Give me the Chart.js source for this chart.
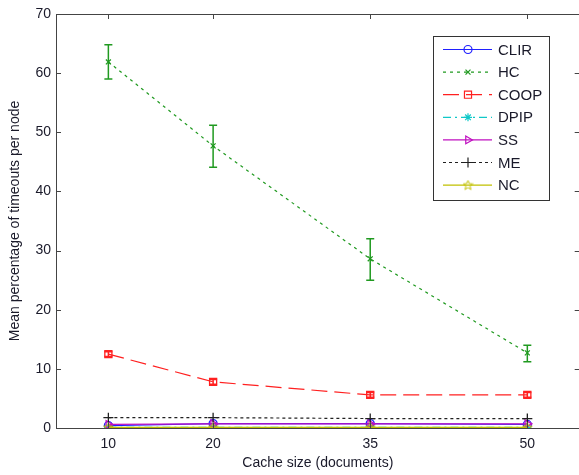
<!DOCTYPE html>
<html>
<head>
<meta charset="utf-8">
<script src="https://cdn.jsdelivr.net/npm/chart.js@4.4.0/dist/chart.umd.min.js"></script>
<style>
  body { margin: 0; overflow: hidden; background: #fff; }
  #wrap { width: 586px; height: 475px; }
</style>
</head>
<body>
<div id="wrap"><canvas id="chart" width="586" height="475"></canvas></div>
<script>
// cache sizes on the x axis
const cacheSizes = [10, 20, 35, 50];
const yTicks = [0, 10, 20, 30, 40, 50, 60, 70];

// mean % of timeouts per node
const clir = [0.4, 0.75, 0.75, 0.6];
const hc = [61.9, 47.7, 28.6, 12.7];
const hcLow = [59.0, 44.1, 25.0, 11.2];
const hcHigh = [64.8, 51.2, 32.0, 14.0];
const coop = [12.5, 7.8, 5.6, 5.6];
const coopLow = [12.1, 7.4, 5.2, 5.2];
const coopHigh = [12.9, 8.2, 6.0, 6.0];
const dpip = [0.1, 0.1, 0.1, 0.1];
const ss = [0.6, 0.7, 0.7, 0.7];
const me = [1.75, 1.75, 1.6, 1.6];
const nc = [0.1, 0.1, 0.1, 0.1];

const FONT = "'Liberation Sans', Arial, sans-serif";

// pentagram marker for NC (no built-in style for it)
function makeStar(color) {
  const c = document.createElement('canvas');
  c.width = 11; c.height = 11;
  const g = c.getContext('2d');
  g.strokeStyle = color;
  g.lineWidth = 1;
  g.beginPath();
  for (let i = 0; i < 10; i++) {
    const r = i % 2 === 0 ? 5 : 2.2;
    const a = -Math.PI / 2 + i * Math.PI / 5;
    const px = 5.5 + r * Math.cos(a), py = 5.8 + r * Math.sin(a);
    if (i === 0) g.moveTo(px, py); else g.lineTo(px, py);
  }
  g.closePath();
  g.stroke();
  return c;
}

function pts(arr) {
  return cacheSizes.map((x, i) => ({ x: x, y: arr[i] }));
}

const datasets = [
  { label: 'CLIR', data: pts(clir), borderColor: '#2020ff', pointStyle: 'circle', pointRadius: 4, borderDash: [] },
  { label: 'HC', data: pts(hc), borderColor: '#209a20', pointStyle: 'crossRot', pointRadius: 3.5, borderDash: [3, 4], errLow: hcLow, errHigh: hcHigh },
  { label: 'COOP', data: pts(coop), borderColor: '#ff2020', pointStyle: 'rect', pointRadius: 5, borderDash: [16, 7], errLow: coopLow, errHigh: coopHigh },
  { label: 'DPIP', data: pts(dpip), borderColor: '#10c8c8', pointStyle: 'star', pointRadius: 4, borderDash: [8, 4, 2, 4] },
  { label: 'SS', data: pts(ss), borderColor: '#c010c0', pointStyle: 'triangle', pointRotation: 90, pointRadius: 4.5, borderDash: [] },
  { label: 'ME', data: pts(me), borderColor: '#202020', pointStyle: 'cross', pointRadius: 5, borderDash: [3, 3] },
  { label: 'NC', data: pts(nc), borderColor: '#c0c000', pointStyle: makeStar('#c0c000'), pointRadius: 5, borderDash: [] }
];
datasets.forEach((d, i) => {
  d.order = datasets.length - i;
  d.borderWidth = 1.2;
  d.pointBorderColor = d.borderColor;
  d.pointBackgroundColor = 'rgba(0,0,0,0)';
  d.pointBorderWidth = 1.3;
  d.fill = false;
  d.tension = 0;
});

// error bars, box, inward ticks and legend
const extras = {
  id: 'extras',
  afterDatasetsDraw(chart) {
    const ctx = chart.ctx, xs = chart.scales.x, ys = chart.scales.y;
    chart.data.datasets.forEach(d => {
      if (!d.errLow) return;
      ctx.save();
      ctx.strokeStyle = d.borderColor;
      ctx.lineWidth = 1.5;
      d.data.forEach((p, i) => {
        const x = xs.getPixelForValue(p.x);
        const y1 = ys.getPixelForValue(d.errLow[i]);
        const y2 = ys.getPixelForValue(d.errHigh[i]);
        ctx.beginPath();
        ctx.moveTo(x, y1); ctx.lineTo(x, y2);
        ctx.moveTo(x - 4, y1); ctx.lineTo(x + 4, y1);
        ctx.moveTo(x - 4, y2); ctx.lineTo(x + 4, y2);
        ctx.stroke();
      });
      ctx.restore();
    });
  },
  afterDraw(chart) {
    const ctx = chart.ctx, a = chart.chartArea;
    const xs = chart.scales.x, ys = chart.scales.y;
    ctx.save();
    ctx.strokeStyle = '#444';
    ctx.lineWidth = 1;
    ctx.strokeRect(Math.round(a.left) + 0.5, Math.round(a.top) + 0.5, a.right - a.left, a.bottom - a.top);
    ctx.beginPath();
    cacheSizes.forEach(v => {
      const x = Math.round(xs.getPixelForValue(v)) + 0.5;
      ctx.moveTo(x, a.bottom); ctx.lineTo(x, a.bottom - 5);
      ctx.moveTo(x, a.top); ctx.lineTo(x, a.top + 5);
    });
    yTicks.forEach(v => {
      const y = Math.round(ys.getPixelForValue(v)) + 0.5;
      ctx.moveTo(a.left, y); ctx.lineTo(a.left + 5, y);
      ctx.moveTo(a.right, y); ctx.lineTo(a.right - 5, y);
    });
    ctx.stroke();

    // legend box
    const bx = 433.5, by = 36.5, bw = 116, bh = 164;
    ctx.fillStyle = '#fff';
    ctx.fillRect(bx, by, bw, bh);
    ctx.strokeStyle = '#333';
    ctx.strokeRect(bx, by, bw, bh);
    ctx.font = '15px ' + FONT;
    ctx.textBaseline = 'middle';
    chart.data.datasets.forEach((d, i) => {
      const y = 49.5 + i * 22.6;
      ctx.strokeStyle = d.borderColor;
      ctx.lineWidth = 1.2;
      ctx.setLineDash(d.borderDash);
      ctx.beginPath();
      ctx.moveTo(443, y); ctx.lineTo(492, y);
      ctx.stroke();
      ctx.setLineDash([]);
      ctx.fillStyle = 'rgba(0,0,0,0)';
      Chart.helpers.drawPoint(ctx, {
        pointStyle: d.pointStyle, rotation: d.pointRotation || 0,
        radius: d.pointRadius, borderWidth: 1.3
      }, 468, y);
      ctx.fillStyle = '#1a1a2a';
      ctx.fillText(d.label, 498, y + 1);
    });
    ctx.restore();
  }
};

new Chart(document.getElementById('chart'), {
  type: 'line',
  data: { datasets: datasets },
  options: {
    responsive: false,
    animation: false,
    layout: { padding: { top: 14, right: 0, left: 0, bottom: 0 } },
    plugins: { legend: { display: false }, tooltip: { enabled: false } },
    scales: {
      x: {
        type: 'linear', min: 5, max: 55,
        afterBuildTicks: s => { s.ticks = cacheSizes.map(v => ({ value: v })); },
        afterFit: s => { s.height = 47; },
        grid: { display: false, drawTicks: false },
        border: { display: false },
        ticks: { padding: 8, color: '#1a1a2a', font: { family: FONT, size: 14 } },
        title: { display: true, text: 'Cache size (documents)', color: '#1a1a2a',
          font: { family: FONT, size: 14 }, padding: { top: 0, bottom: 3 } }
      },
      y: {
        min: 0, max: 70,
        afterBuildTicks: s => { s.ticks = yTicks.map(v => ({ value: v })); },
        afterFit: s => { s.width = 56; },
        grid: { display: false, drawTicks: false },
        border: { display: false },
        ticks: { padding: 5, color: '#1a1a2a', font: { family: FONT, size: 14 } },
        title: { display: true, text: 'Mean percentage of timeouts per node', color: '#1a1a2a',
          font: { family: FONT, size: 14 }, padding: { top: 7, bottom: 0 } }
      }
    }
  },
  plugins: [extras]
});
</script>
</body>
</html>
